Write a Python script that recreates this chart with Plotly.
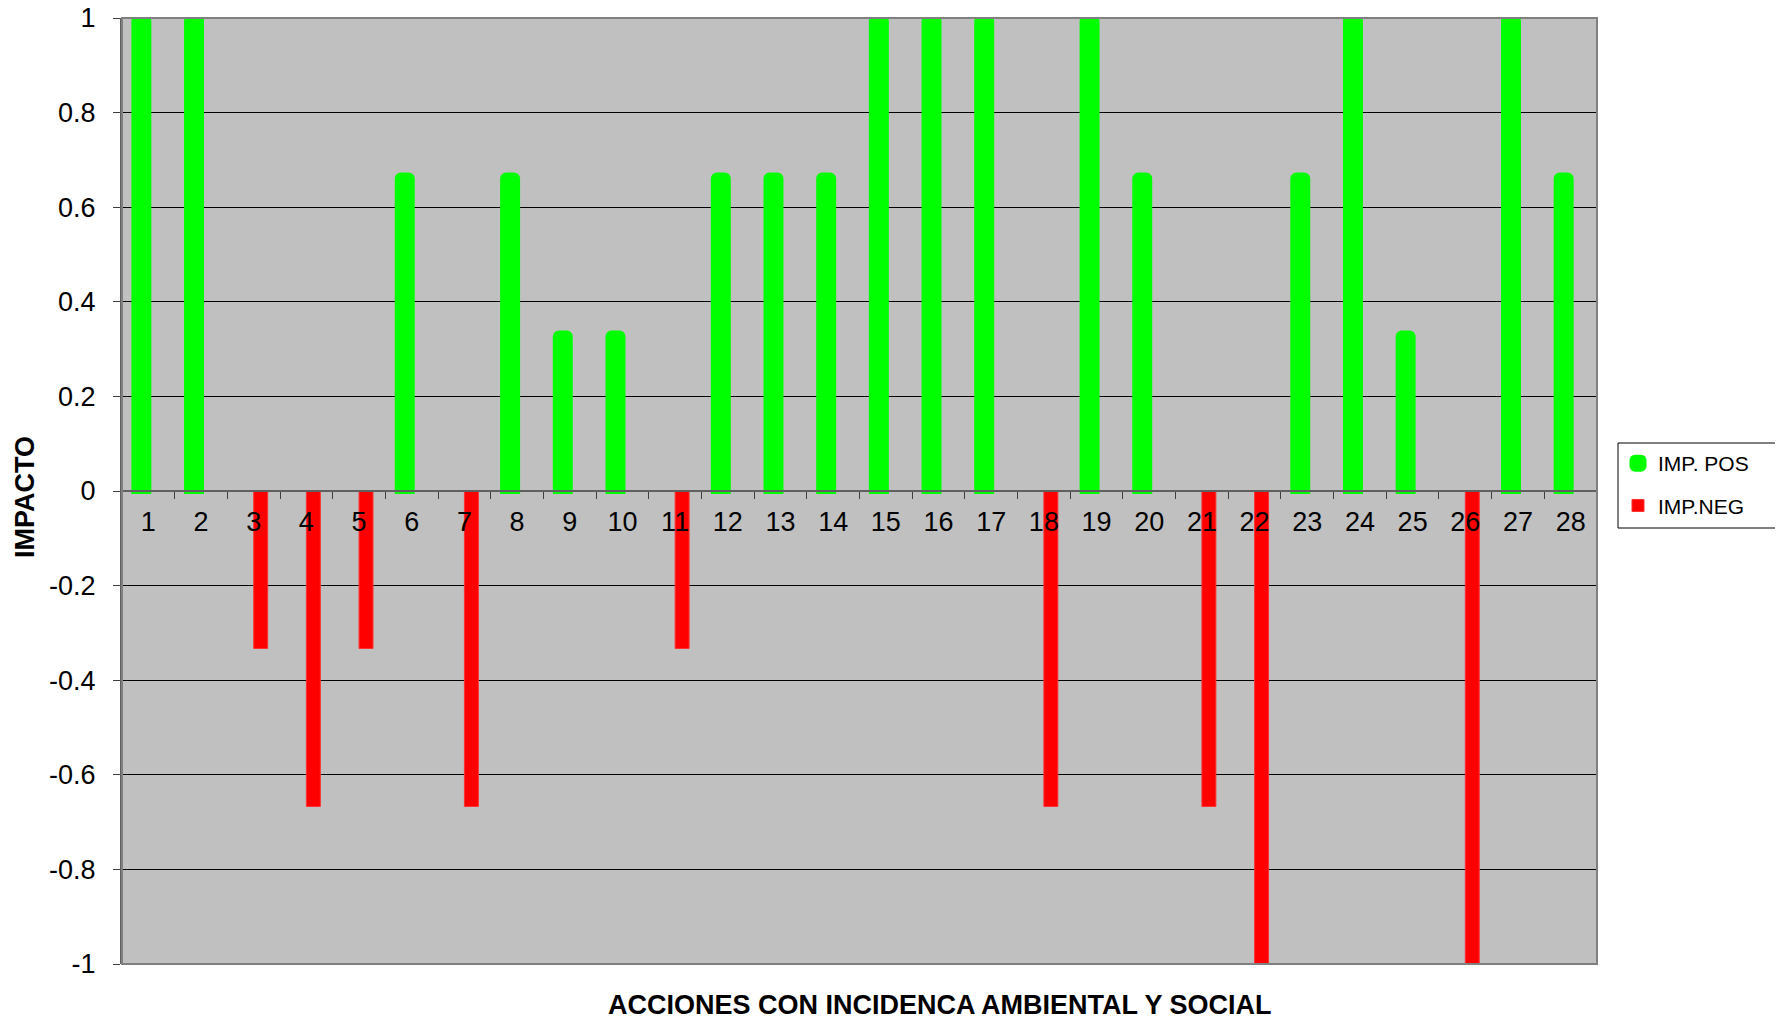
import plotly.graph_objects as go

categories = [str(i) for i in range(1, 29)]
imp_pos = [1, 1, None, None, None, 0.667, None, 0.667, 0.333, 0.333,
           None, 0.667, 0.667, 0.667, 1, 1, 1, None, 1, 0.667,
           None, None, 0.667, 1, 0.333, None, 1, 0.667]
imp_neg = [None, None, -0.333, -0.667, -0.333, None, -0.667, None, None, None,
           -0.333, None, None, None, None, None, None, -0.667, None, None,
           -0.667, -1, None, None, None, -1, None, None]
y_ticks = [1, 0.8, 0.6, 0.4, 0.2, 0, -0.2, -0.4, -0.6, -0.8, -1]
y_tick_text = ["1", "0.8", "0.6", "0.4", "0.2", "0", "-0.2", "-0.4", "-0.6", "-0.8", "-1"]

FONT = "Liberation Sans, Arial, sans-serif"

W, H = 1783, 1021
L, T, R, B = 114, 10, 194, 65
PW = W - L - R
PH = H - T - B


def px(xp):
    return (xp - 8 - L) / PW


def py(yp):
    return 1 - (yp - 8 - T) / PH


fig = go.Figure()
fig.add_trace(go.Bar(
    x=categories, y=imp_pos, name="IMP. POS",
    marker=dict(color="#00FF00", line=dict(color="#00FF00", width=6), cornerradius=3),
    legendgroup="a",
))
fig.add_trace(go.Bar(
    x=categories, y=imp_neg, name="IMP.NEG",
    marker=dict(color="#FF0000", line=dict(color="#FF3030", width=1)),
    legendgroup="b",
))

fig.update_layout(
    width=W, height=H,
    margin=dict(l=L, r=R, t=T, b=B, autoexpand=False),
    paper_bgcolor="white",
    plot_bgcolor="#C0C0C0",
    barmode="group",
    bargap=0.47,
    bargroupgap=0,
    font=dict(family=FONT, size=27, color="black"),
    showlegend=True,
    legend=dict(
        x=px(1618), y=py(443), xanchor="left", yanchor="top",
        bgcolor="rgba(0,0,0,0)", borderwidth=0,
        font=dict(family=FONT, size=21, color="black"),
        tracegroupgap=12, traceorder="grouped",
        itemwidth=30,
    ),
    xaxis=dict(
        type="category",
        range=[-0.5, 27.5],
        anchor="free", position=0.5,
        showline=True, linecolor="#606060", linewidth=2,
        ticks="outside", tickson="boundaries", ticklen=7, tickcolor="#404040", tickwidth=1,
        showgrid=False,
        tickfont=dict(family=FONT, size=27, color="black"),
        ticklabelstandoff=7,
    ),
    yaxis=dict(
        range=[-1, 1],
        tickvals=y_ticks, ticktext=y_tick_text,
        showgrid=True, gridcolor="black", gridwidth=1,
        zeroline=False,
        showline=True, linecolor="#606060", linewidth=2,
        ticks="outside", ticklen=7, tickcolor="#404040",
        tickfont=dict(family=FONT, size=27, color="black"),
        ticklabelstandoff=12,
        ticklabeloverflow="allow",
    ),
    shapes=[
        dict(type="rect", xref="paper", yref="paper", x0=0, y0=0, x1=1, y1=1,
             line=dict(color="#808080", width=2), layer="above"),
        dict(type="rect", xref="paper", yref="paper", x0=px(1618), y0=py(528), x1=px(1777), y1=py(443),
             line=dict(color="black", width=1), fillcolor="white", layer="below"),
    ],
    annotations=[
        dict(text="<b>ACCIONES CON INCIDENCA AMBIENTAL Y SOCIAL</b>", xref="paper", yref="paper",
             x=px(940), y=py(1005), xanchor="center", yanchor="middle",
             showarrow=False, font=dict(family=FONT, size=27, color="black")),
        dict(text="<b>IMPACTO</b>", xref="paper", yref="paper", textangle=-90,
             x=px(25), y=py(497), xanchor="center", yanchor="middle",
             showarrow=False, font=dict(family=FONT, size=27, color="black")),
    ],
)

fig.write_html("out.html")
